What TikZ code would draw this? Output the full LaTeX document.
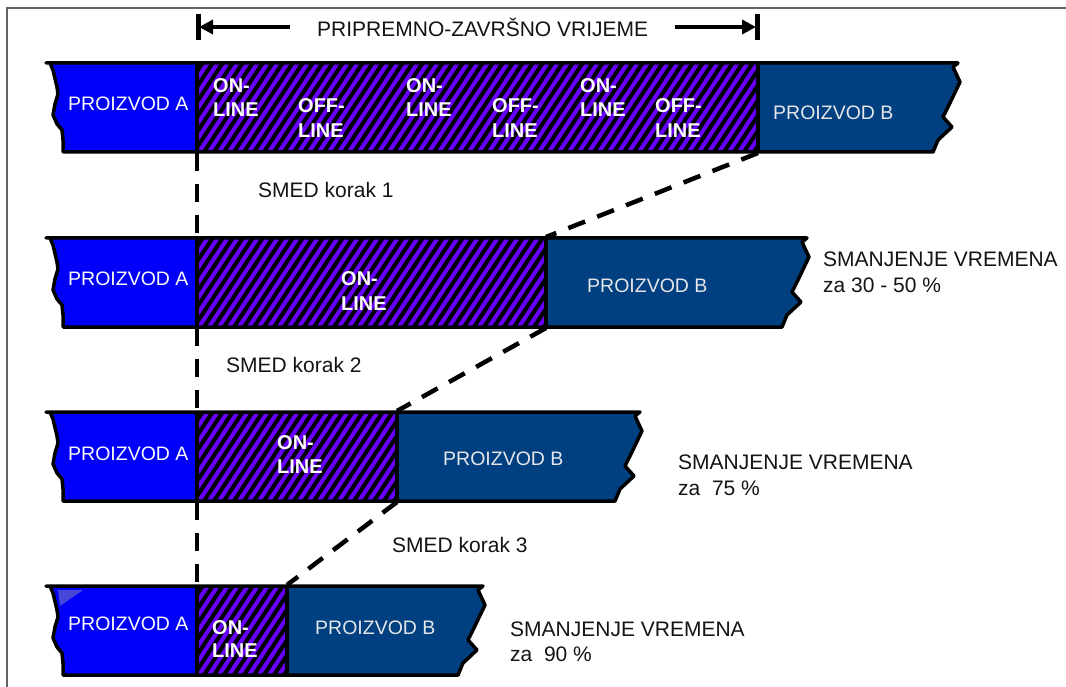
\documentclass[tikz,border=0pt]{standalone}
\usepackage{fontspec}
\setmainfont{Liberation Sans}
\usetikzlibrary{arrows.meta}
\definecolor{prodA}{RGB}{0,0,250}
\definecolor{prodB}{RGB}{0,64,128}
\definecolor{hatchbg}{RGB}{104,0,255}
\definecolor{labelB}{RGB}{228,230,234}
\definecolor{labelW}{RGB}{250,250,250}
\definecolor{framegray}{RGB}{100,100,100}
\definecolor{txtc}{RGB}{20,20,20}
\definecolor{glint}{RGB}{70,70,215}

\tikzset{
  stripe/.style={line width=4pt, black},
  baredge/.style={line width=3.5pt, black, line join=round},
  divider/.style={line width=4.5pt, black},
  dashline/.style={line width=4.5pt, black, dash pattern=on 18pt off 13pt},
  tickmark/.style={line width=5pt, black},
  dimarrow/.style={line width=4pt, black, -{Triangle[length=14pt,width=14pt]}},
  plain/.style={anchor=base west, inner sep=0pt, text=txtc, font=\fontsize{21}{26}\selectfont},
  prodlbl/.style={anchor=base west, inner sep=0pt, font=\fontsize{19.5}{24}\selectfont},
  phase/.style={anchor=base west, inner sep=0pt, text=labelW, font=\fontsize{20}{24}\selectfont\bfseries},
}

% #1 top y, #2 x where product B starts, #3 right x
\newcommand{\drawbar}[3]{%
\begin{scope}[shift={(0,#1)}]
  \begin{scope}
    \clip (46,0) -- (#3,0) -- ++(-5,4) -- ++(7,15) -- ++(-12,25) -- ++(-5,10) -- ++(9,10) -- ++(-14,13) -- ++(-5,12) -- (63,89) -- (63,77) -- (62,67) -- (57,61) -- (53,52) -- (55,41) -- (58,31) -- (57,24) -- (53,7) -- (50,0) -- cycle;
    \fill[prodA] (40,-5) rectangle (197,95);
    \fill[hatchbg] (197,-5) rectangle (#2,95);
    \fill[prodB] (#2,-5) rectangle (#3+10,95);
    \begin{scope}
      \clip (197,-5) rectangle (#2,95);
      \foreach \s in {120,130,...,#2} \draw[stripe] (\s,95) -- (\s+66,-5);
    \end{scope}
  \end{scope}
  \draw[baredge] (46,0) -- (#3,0) -- ++(-5,4) -- ++(7,15) -- ++(-12,25) -- ++(-5,10) -- ++(9,10) -- ++(-14,13) -- ++(-5,12) -- (63,89) -- (63,77) -- (62,67) -- (57,61) -- (53,52) -- (55,41) -- (58,31) -- (57,24) -- (53,7) -- (50,0) -- cycle;
  \draw[divider] (197,0) -- (197,89);
  \draw[divider] (#2,0) -- (#2,89);
\end{scope}}

\begin{document}
\begin{tikzpicture}[x=1pt,y=-1pt]
\useasboundingbox (0,0) rectangle (1066,687);
\fill[white] (0,0) rectangle (1066,687);

% frame
\draw[framegray, line width=1.5pt] (7,687) -- (7,8) -- (1066,8);

% top dimension
\draw[tickmark] (198,14) -- (198,40);
\draw[tickmark] (757,14) -- (757,40);
\coordinate (dimLs) at (290,27);
\coordinate (dimLe) at (199,27);
\coordinate (dimRs) at (675,27);
\coordinate (dimRe) at (756,27);
\draw[dimarrow] (dimLs) -- (dimLe);
\draw[dimarrow] (dimRs) -- (dimRe);
\node[plain] (title) at (317,37) {PRIPREMNO-ZAVRŠNO VRIJEME};

% bars
\drawbar{63}{758}{958}
\drawbar{238}{546}{807}
\drawbar{412}{397}{640}
\drawbar{586}{287}{483}
\fill[glint] (58,590) -- (83,590) -- (60,606) -- cycle;

% bar 1 labels
\node[prodlbl, text=labelW] (a1) at (68,111) {PROIZVOD A};
\node[prodlbl, text=labelB] (pb1) at (773,120) {PROIZVOD B};
\node[phase] (on1a) at (213,93) {ON-};
\node[phase] (on1b) at (213,117) {LINE};
\node[phase] (off1a) at (298,113) {OFF-};
\node[phase] (off1b) at (298,138) {LINE};
\node[phase] (on2a) at (406,93) {ON-};
\node[phase] (on2b) at (406,117) {LINE};
\node[phase] (off2a) at (492,113) {OFF-};
\node[phase] (off2b) at (492,138) {LINE};
\node[phase] (on3a) at (580,93) {ON-};
\node[phase] (on3b) at (580,117) {LINE};
\node[phase] (off3a) at (655,113) {OFF-};
\node[phase] (off3b) at (655,138) {LINE};

% bar 2 labels
\node[prodlbl, text=labelW] (a2) at (68,286) {PROIZVOD A};
\node[prodlbl, text=labelB] (pb2) at (587,293) {PROIZVOD B};
\node[phase] (on4a) at (341,285) {ON-};
\node[phase] (on4b) at (341,310) {LINE};

% bar 3 labels
\node[prodlbl, text=labelW] (a3) at (68,460) {PROIZVOD A};
\node[prodlbl, text=labelB] (pb3) at (443,465) {PROIZVOD B};
\node[phase] (on5a) at (277,449) {ON-};
\node[phase] (on5b) at (277,473) {LINE};

% bar 4 labels
\node[prodlbl, text=labelW] (a4) at (68,630) {PROIZVOD A};
\node[prodlbl, text=labelB] (pb4) at (315,634) {PROIZVOD B};
\node[phase] (on6a) at (212,634) {ON-};
\node[phase] (on6b) at (212,657) {LINE};

% connector points
\coordinate (b1bl) at (197,153);
\coordinate (b1bB) at (758,153);
\coordinate (b2tl) at (197,237);
\coordinate (b2tB) at (546,237);
\coordinate (b2bl) at (197,328);
\coordinate (b2bB) at (546,328);
\coordinate (b3tl) at (197,411);
\coordinate (b3tB) at (397,411);
\coordinate (b3bl) at (197,502);
\coordinate (b3bB) at (397,502);
\coordinate (b4tl) at (197,585);
\coordinate (b4tB) at (287,585);

\draw[dashline] (b1bl) -- (b2tl);
\draw[dashline] (b2bl) -- (b3tl);
\draw[dashline] (b3bl) -- (b4tl);
\draw[dashline] (b1bB) -- (b2tB);
\draw[dashline] (b2bB) -- (b3tB);
\draw[dashline] (b3bB) -- (b4tB);

% step texts
\node[plain] (k1) at (258,198) {SMED korak 1};
\node[plain] (k2) at (226,372) {SMED korak 2};
\node[plain] (k3) at (392,552) {SMED korak 3};

\node[plain] (s1a) at (823,267) {SMANJENJE VREMENA};
\node[plain] (s1b) at (823,293) {za 30 - 50 \%};
\node[plain] (s2a) at (678,469) {SMANJENJE VREMENA};
\node[plain] (s2b) at (678,495) {za\ \ 75 \%};
\node[plain] (s3a) at (510,636) {SMANJENJE VREMENA};
\node[plain] (s3b) at (510,661) {za\ \ 90 \%};
\end{tikzpicture}
\end{document}
